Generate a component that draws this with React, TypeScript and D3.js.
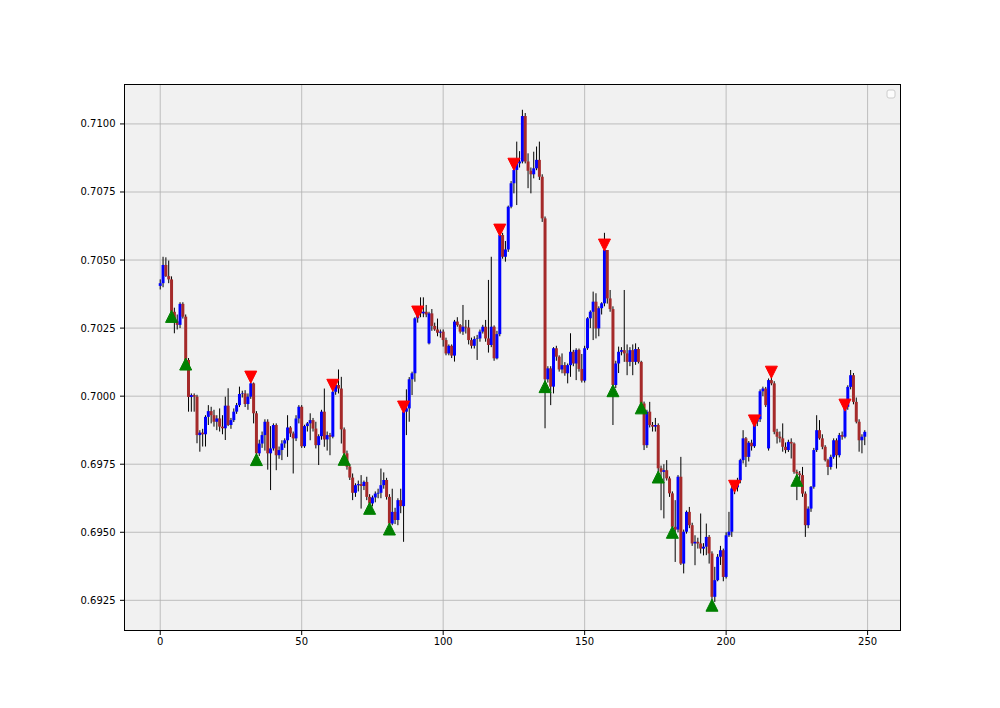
import React from 'react';
import * as d3 from 'd3';

const opens = [
  0.70405,0.70415,0.70482,0.70441,0.70429,0.70310,0.70275,0.70262,0.70339,0.70292,
  0.70133,0.69997,0.70004,0.69998,0.69857,0.69866,0.69860,0.69924,0.69945,0.69930,
  0.69906,0.69918,0.69888,0.69882,0.69965,0.69894,0.69912,0.69943,0.69967,0.70008,
  0.70010,0.69971,0.69998,0.70047,0.69937,0.69790,0.69826,0.69857,0.69906,0.69790,
  0.69808,0.69894,0.69783,0.69802,0.69826,0.69838,0.69885,0.69863,0.69845,0.69918,
  0.69961,0.69816,0.69890,0.69900,0.69912,0.69881,0.69820,0.69853,0.69943,0.69841,
  0.69857,0.69851,0.70016,0.70041,0.70028,0.69878,0.69790,0.69741,0.69701,0.69645,
  0.69673,0.69677,0.69670,0.69685,0.69630,0.69606,0.69628,0.69642,0.69645,0.69673,
  0.69692,0.69630,0.69532,0.69575,0.69545,0.69618,0.69596,0.69943,0.69955,0.70062,
  0.70084,0.70286,0.70316,0.70304,0.70310,0.70194,0.70304,0.70258,0.70245,0.70233,
  0.70237,0.70206,0.70157,0.70185,0.70149,0.70274,0.70261,0.70237,0.70255,0.70252,
  0.70206,0.70185,0.70210,0.70212,0.70237,0.70255,0.70212,0.70188,0.70255,0.70139,
  0.70228,0.70592,0.70512,0.70539,0.70696,0.70782,0.70831,0.70855,0.70862,0.71029,
  0.70862,0.70828,0.70815,0.70837,0.70868,0.70806,0.70653,0.70062,0.70102,0.70035,
  0.70176,0.70145,0.70098,0.70114,0.70084,0.70114,0.70163,0.70120,0.70170,0.70100,
  0.70057,0.70176,0.70286,0.70310,0.70347,0.70249,0.70323,0.70341,0.70537,0.70359,
  0.70320,0.70041,0.70120,0.70163,0.70169,0.70157,0.70126,0.70169,0.70126,0.70173,
  0.70126,0.69973,0.69820,0.69943,0.69894,0.69888,0.69894,0.69735,0.69722,0.69728,
  0.69698,0.69643,0.69520,0.69510,0.69704,0.69385,0.69502,0.69575,0.69526,0.69459,
  0.69465,0.69459,0.69440,0.69447,0.69483,0.69422,0.69263,0.69324,0.69410,0.69434,
  0.69336,0.69489,0.69502,0.69661,0.69665,0.69691,0.69765,0.69845,0.69777,0.69829,
  0.69816,0.69906,0.69915,0.70018,0.70028,0.69808,0.70059,0.70047,0.69869,0.69851,
  0.69845,0.69814,0.69802,0.69832,0.69826,0.69722,0.69716,0.69710,0.69642,0.69526,
  0.69587,0.69667,0.69802,0.69875,0.69845,0.69814,0.69765,0.69740,0.69777,0.69838,
  0.69783,0.69857,0.69851,0.69961,0.70034,0.70077,0.69979,0.69906,0.69838,0.69851,
];

const highs = [
  0.70429,0.70512,0.70510,0.70498,0.70440,0.70325,0.70300,0.70345,0.70345,0.70300,
  0.70140,0.70010,0.70010,0.70005,0.69875,0.69880,0.69930,0.69967,0.69961,0.69950,
  0.69930,0.69955,0.69930,0.69998,0.70029,0.69920,0.69955,0.69975,0.70035,0.70020,
  0.70022,0.70010,0.70070,0.70050,0.69945,0.69840,0.69870,0.69915,0.69915,0.69890,
  0.69900,0.69900,0.69815,0.69838,0.69845,0.69930,0.69890,0.69870,0.69930,0.69967,
  0.69967,0.69895,0.69905,0.69937,0.69920,0.69906,0.69860,0.69950,0.70028,0.69870,
  0.69865,0.70040,0.70060,0.70098,0.70071,0.69885,0.69800,0.69750,0.69716,0.69680,
  0.69690,0.69710,0.69690,0.69704,0.69640,0.69635,0.69650,0.69660,0.69734,0.69720,
  0.69700,0.69640,0.69660,0.69590,0.69625,0.69660,0.69960,0.70025,0.70070,0.70090,
  0.70290,0.70330,0.70363,0.70363,0.70335,0.70310,0.70320,0.70270,0.70285,0.70245,
  0.70245,0.70215,0.70190,0.70190,0.70280,0.70290,0.70265,0.70335,0.70280,0.70280,
  0.70215,0.70220,0.70225,0.70245,0.70262,0.70280,0.70427,0.70512,0.70260,0.70240,
  0.70610,0.70600,0.70570,0.70700,0.70790,0.70852,0.70935,0.70900,0.71052,0.71040,
  0.70892,0.70840,0.70898,0.70917,0.70935,0.70815,0.70660,0.70110,0.70110,0.70180,
  0.70185,0.70150,0.70157,0.70125,0.70120,0.70231,0.70170,0.70176,0.70175,0.70155,
  0.70185,0.70290,0.70315,0.70384,0.70378,0.70330,0.70345,0.70600,0.70482,0.70390,
  0.70330,0.70130,0.70182,0.70180,0.70390,0.70190,0.70180,0.70190,0.70194,0.70180,
  0.70130,0.69980,0.69950,0.69979,0.69905,0.69920,0.69900,0.69745,0.69750,0.69765,
  0.69705,0.69650,0.69618,0.69710,0.69777,0.69510,0.69580,0.69593,0.69535,0.69489,
  0.69480,0.69569,0.69460,0.69532,0.69490,0.69430,0.69373,0.69420,0.69450,0.69440,
  0.69500,0.69575,0.69670,0.69669,0.69700,0.69770,0.69875,0.69850,0.69835,0.69840,
  0.69909,0.69930,0.70025,0.70035,0.70034,0.70065,0.70087,0.70055,0.69880,0.69870,
  0.69900,0.69830,0.69840,0.69845,0.69830,0.69730,0.69725,0.69740,0.69650,0.69595,
  0.69670,0.69810,0.69930,0.69912,0.69860,0.69820,0.69770,0.69785,0.69845,0.69845,
  0.69865,0.69870,0.69967,0.70040,0.70096,0.70085,0.69995,0.69915,0.69860,0.69875,
];

const lows = [
  0.70392,0.70400,0.70438,0.70415,0.70300,0.70231,0.70245,0.70250,0.70285,0.70118,
  0.69943,0.69943,0.69943,0.69827,0.69796,0.69815,0.69815,0.69894,0.69900,0.69888,
  0.69875,0.69870,0.69860,0.69839,0.69890,0.69880,0.69905,0.69935,0.69960,0.69995,
  0.69960,0.69950,0.69990,0.69900,0.69767,0.69780,0.69810,0.69800,0.69730,0.69655,
  0.69800,0.69728,0.69770,0.69765,0.69810,0.69777,0.69850,0.69716,0.69835,0.69900,
  0.69810,0.69810,0.69870,0.69838,0.69870,0.69808,0.69747,0.69840,0.69814,0.69800,
  0.69783,0.69845,0.70005,0.70010,0.69826,0.69768,0.69730,0.69692,0.69618,0.69630,
  0.69650,0.69587,0.69655,0.69618,0.69588,0.69595,0.69610,0.69625,0.69625,0.69660,
  0.69620,0.69512,0.69526,0.69530,0.69526,0.69570,0.69465,0.69857,0.69906,0.70004,
  0.70053,0.70270,0.70290,0.70290,0.70290,0.70190,0.70240,0.70240,0.70220,0.70215,
  0.70182,0.70150,0.70150,0.70140,0.70127,0.70255,0.70230,0.70225,0.70230,0.70190,
  0.70175,0.70175,0.70133,0.70200,0.70230,0.70200,0.70160,0.70180,0.70130,0.70135,
  0.70220,0.70505,0.70494,0.70530,0.70690,0.70745,0.70702,0.70840,0.70855,0.70855,
  0.70764,0.70745,0.70800,0.70830,0.70794,0.70640,0.69882,0.70050,0.69967,0.70010,
  0.70130,0.70090,0.70084,0.70075,0.70047,0.70071,0.70110,0.70059,0.70090,0.70050,
  0.70050,0.70170,0.70250,0.70206,0.70212,0.70220,0.70300,0.70330,0.70340,0.70310,
  0.69894,0.70030,0.70085,0.70150,0.70126,0.70077,0.70110,0.70077,0.70115,0.70120,
  0.69960,0.69802,0.69810,0.69885,0.69870,0.69870,0.69720,0.69581,0.69551,0.69690,
  0.69630,0.69510,0.69391,0.69500,0.69380,0.69349,0.69495,0.69515,0.69450,0.69379,
  0.69440,0.69422,0.69415,0.69416,0.69385,0.69240,0.69244,0.69320,0.69380,0.69320,
  0.69330,0.69483,0.69483,0.69640,0.69650,0.69680,0.69753,0.69740,0.69760,0.69800,
  0.69810,0.69890,0.69905,0.70000,0.69960,0.69800,0.70040,0.69860,0.69826,0.69830,
  0.69796,0.69790,0.69795,0.69771,0.69715,0.69618,0.69690,0.69630,0.69483,0.69515,
  0.69575,0.69660,0.69795,0.69840,0.69805,0.69760,0.69710,0.69730,0.69770,0.69734,
  0.69775,0.69840,0.69845,0.69950,0.70025,0.69970,0.69900,0.69796,0.69790,0.69820,
];

const closes = [
  0.70415,0.70482,0.70441,0.70429,0.70310,0.70275,0.70262,0.70339,0.70292,0.70133,
  0.69997,0.70004,0.69998,0.69857,0.69866,0.69860,0.69924,0.69945,0.69930,0.69906,
  0.69918,0.69888,0.69882,0.69965,0.69894,0.69912,0.69943,0.69967,0.70008,0.70010,
  0.69971,0.69998,0.70047,0.69937,0.69790,0.69826,0.69857,0.69906,0.69790,0.69808,
  0.69894,0.69783,0.69802,0.69826,0.69838,0.69885,0.69863,0.69845,0.69918,0.69961,
  0.69816,0.69890,0.69900,0.69912,0.69881,0.69820,0.69853,0.69943,0.69841,0.69857,
  0.69851,0.70016,0.70041,0.70028,0.69878,0.69790,0.69741,0.69701,0.69645,0.69673,
  0.69677,0.69670,0.69685,0.69630,0.69606,0.69628,0.69642,0.69645,0.69673,0.69692,
  0.69630,0.69532,0.69575,0.69545,0.69618,0.69596,0.69943,0.69955,0.70062,0.70084,
  0.70286,0.70316,0.70304,0.70310,0.70300,0.70304,0.70258,0.70245,0.70233,0.70237,
  0.70206,0.70157,0.70185,0.70149,0.70274,0.70261,0.70237,0.70255,0.70252,0.70206,
  0.70185,0.70210,0.70212,0.70237,0.70255,0.70212,0.70188,0.70255,0.70139,0.70228,
  0.70592,0.70512,0.70539,0.70696,0.70782,0.70831,0.70855,0.70862,0.71029,0.70862,
  0.70828,0.70815,0.70837,0.70868,0.70806,0.70653,0.70062,0.70102,0.70035,0.70176,
  0.70145,0.70098,0.70114,0.70084,0.70114,0.70163,0.70120,0.70170,0.70100,0.70057,
  0.70176,0.70286,0.70310,0.70347,0.70249,0.70323,0.70341,0.70537,0.70359,0.70320,
  0.70041,0.70120,0.70163,0.70169,0.70157,0.70126,0.70169,0.70126,0.70173,0.70126,
  0.69973,0.69820,0.69943,0.69894,0.69888,0.69894,0.69735,0.69722,0.69728,0.69698,
  0.69643,0.69520,0.69510,0.69704,0.69385,0.69502,0.69575,0.69526,0.69459,0.69465,
  0.69459,0.69440,0.69447,0.69483,0.69422,0.69263,0.69324,0.69410,0.69434,0.69336,
  0.69489,0.69502,0.69661,0.69665,0.69691,0.69765,0.69845,0.69777,0.69829,0.69816,
  0.69906,0.69915,0.70018,0.70028,0.69967,0.70059,0.70047,0.69869,0.69851,0.69845,
  0.69814,0.69802,0.69832,0.69826,0.69722,0.69716,0.69710,0.69642,0.69526,0.69587,
  0.69667,0.69802,0.69875,0.69845,0.69814,0.69765,0.69740,0.69777,0.69838,0.69783,
  0.69857,0.69851,0.69961,0.70034,0.70077,0.69979,0.69906,0.69838,0.69851,0.69869,
];

const buyBars = [4, 9, 34, 65, 74, 81, 136, 160, 170, 176, 181, 195, 225];
const buyLevels = [0.70293, 0.70118, 0.69767, 0.69768, 0.69588, 0.69512, 0.70035, 0.70020, 0.69957, 0.69703, 0.69500, 0.69232, 0.69691];
const sellBars = [32, 61, 86, 91, 120, 125, 157, 203, 210, 216, 242];
const sellLevels = [0.70070, 0.70040, 0.69960, 0.70309, 0.70610, 0.70852, 0.70555, 0.69669, 0.69909, 0.70088, 0.69967];

const yTicks = [0.6925, 0.695, 0.6975, 0.7, 0.7025, 0.705, 0.7075, 0.71];
const xTicks = [0, 50, 100, 150, 200, 250];

export default function App() {
  const W = 1000, H = 708;
  const L = 125, R = 900, T = 85, B = 630;
  const n = closes.length;
  const xSpan = n - 1;
  const x = d3.scaleLinear().domain([-0.05 * xSpan, xSpan * 1.05]).range([L, R]);
  const all = [...highs, ...lows, ...buyLevels, ...sellLevels];
  const mn = d3.min(all) as number;
  const mx = d3.max(all) as number;
  const pad = (mx - mn) * 0.05;
  const y = d3.scaleLinear().domain([mn - pad, mx + pad]).range([B, T]);
  const font = 'DejaVu Sans, sans-serif';
  const s = 6;

  return (
    <svg width={W} height={H} style={{ position: 'absolute', left: 0, top: 0, background: '#fff' }} xmlns="http://www.w3.org/2000/svg">
      <rect x={0} y={0} width={W} height={H} fill="#ffffff" />
      <rect x={L} y={T} width={R - L} height={B - T} fill="#f1f1f1" />
      {xTicks.map((t) => (
        <line key={'gx' + t} x1={x(t)} x2={x(t)} y1={T} y2={B} stroke="#b0b0b0" strokeWidth={0.8} />
      ))}
      {yTicks.map((t) => (
        <line key={'gy' + t} x1={L} x2={R} y1={y(t)} y2={y(t)} stroke="#b0b0b0" strokeWidth={0.8} />
      ))}
      <g>
        {closes.map((c, i) => {
          const o = opens[i];
          const xi = x(i);
          let body = null;
          if (c > o) {
            body = <line x1={xi} x2={xi} y1={y(o)} y2={y(c)} stroke="#0000ff" strokeWidth={3} />;
          } else if (c < o) {
            body = <line x1={xi} x2={xi} y1={y(o)} y2={y(c)} stroke="#a52a2a" strokeWidth={3} />;
          } else {
            body = <line x1={xi} x2={xi} y1={y(c)} y2={y(o + 0.00003)} stroke="#000" strokeWidth={1} />;
          }
          return (
            <g key={'c' + i}>
              <line x1={xi} x2={xi} y1={y(lows[i])} y2={y(highs[i])} stroke="#000" strokeWidth={1} />
              {body}
            </g>
          );
        })}
      </g>
      {buyBars.map((b, k) => {
        const cx = x(b), cy = y(buyLevels[k]);
        return <path key={'b' + k} d={`M${cx},${cy - s}L${cx + s},${cy + s}L${cx - s},${cy + s}Z`} fill="#008000" stroke="#008000" strokeWidth={1} />;
      })}
      {sellBars.map((b, k) => {
        const cx = x(b), cy = y(sellLevels[k]);
        return <path key={'s' + k} d={`M${cx},${cy + s}L${cx + s},${cy - s}L${cx - s},${cy - s}Z`} fill="#ff0000" stroke="#ff0000" strokeWidth={1} />;
      })}
      <rect x={L - 0.5} y={T - 0.5} width={R - L + 1} height={B - T + 1} fill="none" stroke="#000" strokeWidth={1} shapeRendering="crispEdges" />
      {xTicks.map((t) => (
        <g key={'xt' + t}>
          <line x1={x(t)} x2={x(t)} y1={B} y2={B + 5} stroke="#000" strokeWidth={1} />
          <text x={x(t)} y={B + 8} textAnchor="middle" dominantBaseline="hanging" fontFamily={font} fontSize={10} fill="#000">{t}</text>
        </g>
      ))}
      {yTicks.map((t) => (
        <g key={'yt' + t}>
          <line x1={L - 5} x2={L} y1={y(t)} y2={y(t)} stroke="#000" strokeWidth={1} />
          <text x={L - 9.5} y={y(t)} textAnchor="end" dominantBaseline="central" fontFamily={font} fontSize={10} fill="#000">{d3.format('.4f')(t)}</text>
        </g>
      ))}
      <rect x={887} y={90} width={8} height={8} rx={2} ry={2} fill="#ffffff" fillOpacity={0.8} stroke="#cccccc" strokeWidth={1} />
    </svg>
  );
}
